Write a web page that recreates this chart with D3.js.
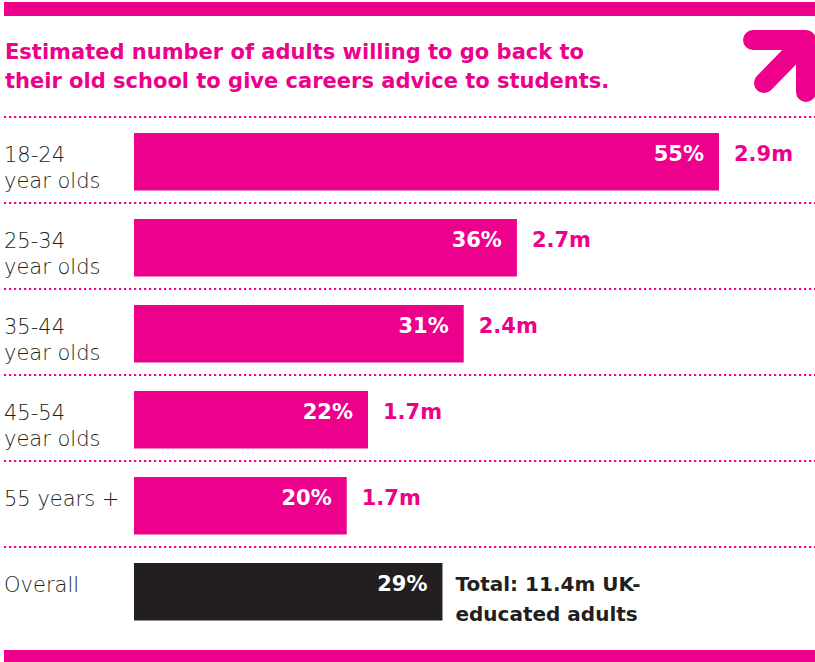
<!DOCTYPE html>
<html><head><meta charset="utf-8">
<script src="https://cdn.jsdelivr.net/npm/d3@7"></script>
<style>
html,body{margin:0;padding:0;background:#fff;}
svg{display:block;}
</style></head>
<body>
<svg id="chart" width="815" height="662"></svg>
<script>
const titleLines = ["Estimated number of adults willing to go back to",
                    "their old school to give careers advice to students."];
const categories = ["18-24", "25-34", "35-44", "45-54", "55+", "Overall"];
const categoryLabels = [["18-24","year olds"],["25-34","year olds"],["35-44","year olds"],["45-54","year olds"],["55 years +"],["Overall"]];
const percents = [55, 36, 31, 22, 20, 29];
const millions = ["2.9m", "2.7m", "2.4m", "1.7m", "1.7m"];
const totalLabel = ["Total: 11.4m UK-", "educated adults"];

const PINK = "#EC008C", DARK = "#231F20";
const FONT = "'DejaVu Sans', sans-serif";
const FONT_LIGHT = "'DejaVu Sans', sans-serif";

const svg = d3.select("#chart");

// top and bottom pink bands
svg.append("rect").attr("x",4).attr("y",2).attr("width",811).attr("height",14).attr("fill",PINK);
svg.append("rect").attr("x",4).attr("y",650).attr("width",811).attr("height",12).attr("fill",PINK);

// title
svg.append("g").selectAll("text").data(titleLines).join("text")
  .attr("x",5).attr("y",(d,i)=>59+i*29)
  .attr("fill",PINK).attr("font-family",FONT).attr("font-weight","bold")
  .attr("font-size",21).text(d=>d);

// arrow
const arrow = svg.append("g").attr("fill","none").attr("stroke",PINK)
  .attr("stroke-width",20).attr("stroke-linecap","round").attr("stroke-linejoin","round");
arrow.append("path").attr("d","M753,40 L806,40 L806,92");
arrow.append("path").attr("d","M804,42 L764,83");

// scales
const y = d3.scaleBand().domain(categories).range([117, 633]).padding(0);
const x = d3.scaleLinear().domain([0, 55]).range([134, 719]);
const barTop = d => y(d) + 16;
const barH = 57.5;

// dotted separators
svg.append("g").selectAll("line").data(categories).join("line")
  .attr("x1",4).attr("x2",815).attr("y1",d=>y(d)).attr("y2",d=>y(d))
  .attr("stroke",PINK).attr("stroke-width",2.2).attr("stroke-dasharray","2.2,2.8");

const rows = categories.map((c,i)=>({c, p:percents[i], m:millions[i], lab:categoryLabels[i], overall: c==="Overall"}));

// bars
svg.append("g").selectAll("rect").data(rows).join("rect")
  .attr("x", x(0)).attr("y", d=>barTop(d.c))
  .attr("width", d=>x(d.p)-x(0)).attr("height", barH)
  .attr("fill", d=>d.overall?DARK:PINK);

// category labels
const cl = svg.append("g");
rows.forEach(d=>{
  d.lab.forEach((t,j)=>{
    cl.append("text").attr("x",4).attr("y",barTop(d.c)+29+j*26)
      .attr("fill",DARK).attr("font-family",FONT_LIGHT).attr("font-weight",300).attr("font-size",21)
      .text(t);
  });
});

// percent labels inside bars
svg.append("g").selectAll("text").data(rows).join("text")
  .attr("x", d=>x(d.p)-15).attr("y", d=>barTop(d.c)+28)
  .attr("text-anchor","end").attr("fill","#fff")
  .attr("font-family",FONT).attr("font-weight","bold").attr("font-size",21)
  .text(d=>d.p+"%");

// million labels
svg.append("g").selectAll("text").data(rows.filter(d=>!d.overall)).join("text")
  .attr("x", d=>x(d.p)+15).attr("y", d=>barTop(d.c)+28)
  .attr("fill",PINK).attr("font-family",FONT).attr("font-weight","bold").attr("font-size",21)
  .text(d=>d.m);

// total label
const ov = rows.find(d=>d.overall);
svg.append("g").selectAll("text").data(totalLabel).join("text")
  .attr("x", x(ov.p)+13).attr("y",(d,i)=>barTop(ov.c)+28+i*30)
  .attr("fill",DARK).attr("font-family",FONT).attr("font-weight","bold").attr("font-size",20)
  .text(d=>d);
</script>
</body></html>
